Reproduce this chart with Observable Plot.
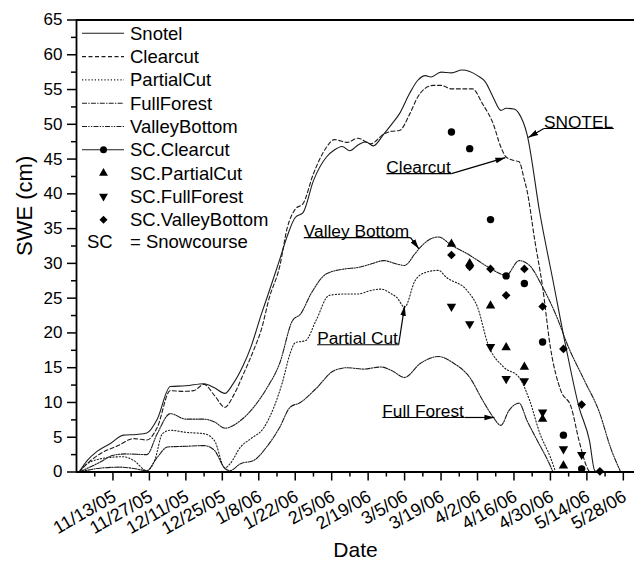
<!DOCTYPE html>
<html>
<head>
<meta charset="utf-8">
<script src="https://cdn.jsdelivr.net/npm/d3@7"></script>
<script src="https://cdn.jsdelivr.net/npm/@observablehq/plot@0.6"></script>
<style>
  html, body { margin: 0; padding: 0; background: #fff; }
  #wrap { position: relative; width: 634px; height: 568px; overflow: hidden; background: #fff; }
  #wrap svg { position: absolute; left: 0; top: 0; }
</style>
</head>
<body>
<div id="wrap"></div>
<script>
// ---------------- data ----------------
const seriesNames = ["Snotel", "Clearcut", "PartialCut", "FullForest", "ValleyBottom"];

const snotelDates = ["2005-10-31","2005-11-03","2005-11-07","2005-11-12","2005-11-17","2005-11-22","2005-11-26","2005-11-30","2005-12-05","2005-12-11","2005-12-18","2005-12-22","2005-12-26","2005-12-29","2006-01-02","2006-01-05","2006-01-09","2006-01-12","2006-01-16","2006-01-19","2006-01-22","2006-01-25","2006-01-29","2006-02-03","2006-02-06","2006-02-09","2006-02-12","2006-02-15","2006-02-18","2006-02-21","2006-02-25","2006-02-28","2006-03-03","2006-03-07","2006-03-10","2006-03-13","2006-03-15","2006-03-19","2006-03-23","2006-03-27","2006-03-30","2006-04-02","2006-04-05","2006-04-08","2006-04-11","2006-04-13","2006-04-16","2006-04-18","2006-04-21","2006-04-26","2006-05-01","2006-05-06","2006-05-11","2006-05-15","2006-05-17","2006-05-18"];
const snotelSWE = [0,1.6,3.0,4.1,5.3,5.4,5.6,7.6,12.3,12.4,12.7,12.1,11.3,12.6,15.3,18.0,22.7,26.0,30.5,34.0,36.6,37.3,41.9,45.3,46.3,46.8,46.2,47.0,47.5,46.9,48.6,50.0,51.5,54.5,56.3,57.0,56.8,57.5,57.4,57.8,57.6,57.0,56.1,53.9,52.0,52.3,52.2,51.5,48.6,37.1,27.5,17.9,9.3,4.5,0.2,0];

const clearcutDates = ["2005-10-31","2005-11-04","2005-11-08","2005-11-15","2005-11-21","2005-11-26","2005-11-30","2005-12-05","2005-12-10","2005-12-14","2005-12-18","2005-12-22","2005-12-26","2005-12-29","2006-01-02","2006-01-06","2006-01-09","2006-01-12","2006-01-16","2006-01-19","2006-01-22","2006-01-25","2006-01-29","2006-02-03","2006-02-06","2006-02-11","2006-02-15","2006-02-20","2006-02-25","2006-02-28","2006-03-03","2006-03-07","2006-03-10","2006-03-13","2006-03-16","2006-03-19","2006-03-23","2006-03-31","2006-04-04","2006-04-08","2006-04-11","2006-04-13","2006-04-16","2006-04-18","2006-04-20","2006-04-21","2006-04-24","2006-04-27","2006-04-30","2006-05-04","2006-05-08","2006-05-11","2006-05-14","2006-05-15"];
const clearcutSWE = [0,1.5,2.6,3.8,4.8,4.6,6.4,11.7,11.6,11.7,12.6,11.0,9.3,10.8,14.0,17.5,20.5,25.0,29.5,35.2,37.8,38.6,42.9,46.7,47.8,47.4,48.0,47.2,48.6,49.0,49.1,51.5,53.9,55.2,55.6,55.6,55.1,55.1,52.9,50.1,46.7,45.3,44.8,44.6,42.0,40.5,33.3,26.6,17.9,11.7,9.3,4.5,0.7,0];

const partialCutDates = ["2005-10-31","2005-11-04","2005-11-12","2005-11-17","2005-11-21","2005-11-26","2005-11-29","2005-12-02","2005-12-05","2005-12-11","2005-12-18","2005-12-22","2005-12-26","2005-12-28","2006-01-01","2006-01-05","2006-01-10","2006-01-14","2006-01-17","2006-01-20","2006-01-22","2006-01-26","2006-01-30","2006-02-04","2006-02-10","2006-02-15","2006-02-20","2006-02-24","2006-02-28","2006-03-02","2006-03-05","2006-03-09","2006-03-13","2006-03-18","2006-03-21","2006-03-29","2006-04-02","2006-04-06","2006-04-12","2006-04-18","2006-04-22","2006-04-26","2006-04-30","2006-05-02"];
const partialCutSWE = [0,1.4,2.1,2.2,1.65,0.2,1.65,5.5,6.0,5.7,5.5,4.5,0.6,1.2,3.6,4.8,6.4,9.5,12.8,17.0,18.6,18.9,21.8,25.4,25.6,25.6,26.1,26.3,25.6,25.1,23.7,27.5,28.7,29.0,28.0,26.1,23.7,18.4,15.1,13.6,10.3,5.5,2.1,0];

const fullForestDates = ["2005-10-31","2005-11-08","2005-11-16","2005-11-21","2005-11-26","2005-11-30","2005-12-04","2005-12-11","2005-12-18","2005-12-22","2005-12-26","2005-12-28","2006-01-01","2006-01-06","2006-01-11","2006-01-16","2006-01-20","2006-01-24","2006-01-30","2006-02-06","2006-02-11","2006-02-17","2006-02-24","2006-02-28","2006-03-05","2006-03-11","2006-03-18","2006-03-24","2006-03-30","2006-04-04","2006-04-08","2006-04-11","2006-04-14","2006-04-18","2006-04-21","2006-04-25","2006-04-29","2006-05-01"];
const fullForestSWE = [0,0.55,0.7,0.5,0.2,2.1,3.6,3.7,3.8,3.1,0.5,0.2,1.2,1.65,3.6,6.4,9.3,10.0,12.0,14.6,15.0,14.8,15.1,14.6,13.6,15.6,16.6,15.6,13.6,10.3,7.9,6.7,8.8,9.9,7.4,4.5,1.65,0];

const valleyBottomDates = ["2005-10-31","2005-11-08","2005-11-13","2005-11-18","2005-11-26","2005-11-30","2005-12-05","2005-12-11","2005-12-18","2005-12-22","2005-12-26","2006-01-01","2006-01-06","2006-01-11","2006-01-16","2006-01-21","2006-01-24","2006-01-28","2006-02-03","2006-02-10","2006-02-15","2006-02-20","2006-02-25","2006-03-02","2006-03-05","2006-03-09","2006-03-11","2006-03-14","2006-03-18","2006-03-23","2006-03-29","2006-04-06","2006-04-13","2006-04-18","2006-04-22","2006-04-27","2006-05-02","2006-05-07","2006-05-13","2006-05-19","2006-05-23","2006-05-27"];
const valleyBottomSWE = [0,1.4,2.4,2.6,2.5,5.5,8.4,7.6,7.6,7.2,6.3,7.4,9.3,12.0,15.6,21.8,22.7,25.6,28.5,29.2,29.4,29.9,30.4,29.9,29.7,31.4,32.3,33.3,33.8,32.6,31.4,29.5,28.3,30.4,29.7,26.6,22.7,17.9,13.2,8.4,3.6,0];

// snowcourse surveys
const scDates = ["2006-03-23","2006-03-30","2006-04-07","2006-04-13","2006-04-20","2006-04-27","2006-05-05","2006-05-12","2006-05-19"];
const scClearcut     = [48.9, 46.5, 36.3, 28.2, 27.1, 18.7, 5.3, 0.45];
const scPartialCut   = [32.8, 30.0, 23.9, 17.9, 15.1, 7.6, 0.9];
const scFullForest   = [23.8, 21.3, 18.0, 13.4, 13.1, 8.6, 3.3, 2.5];
const scValleyBottom = [31.2, 29.5, 29.2, 25.4, 29.2, 23.8, 17.7, 9.7, 0.1];

// ticks
const xTickLabels = ["11/13/05","11/27/05","12/11/05","12/25/05","1/8/06","1/22/06","2/5/06","2/19/06","3/5/06","3/19/06","4/2/06","4/16/06","4/30/06","5/14/06","5/28/06"];
const yTickLabels = [0,5,10,15,20,25,30,35,40,45,50,55,60,65];

// legend
const legendNames = ["Snotel","Clearcut","PartialCut","FullForest","ValleyBottom","SC.Clearcut","SC.PartialCut","SC.FullForest","SC.ValleyBottom"];
const legendNoteKey = "SC";
const legendNoteText = "= Snowcourse";

// annotations (data coordinates)
const annoLabels   = ["SNOTEL","Clearcut","Valley Bottom","Partial Cut","Full Forest"];
const annoLeft     = ["2006-04-27T12:00","2006-02-26T00:00","2006-01-25T07:00","2006-01-30T10:00","2006-02-24T10:00"];
const annoRight    = ["2006-05-24T08:00","2006-03-23T00:00","2006-03-07T07:00","2006-03-02T17:00","2006-03-28T00:00"];
const annoLevel    = [49.4, 42.9, 33.7, 18.3, 7.84];
const annoTipDate  = ["2006-04-21T12:00","2006-04-12T17:00","2006-03-10T12:00","2006-03-05T00:00","2006-04-08T12:00"];
const annoTipSWE   = [48.1, 45.2, 32.1, 23.9, 7.84];
const annoTailSide = ["left","right","right","right","right"];

// ---------------- build ----------------
const FONT = "'Liberation Sans', Arial, Helvetica, sans-serif";
const P = s => new Date(s.length > 10 ? s + ":00Z" : s + "T00:00:00Z");
const parseMDY = d3.utcParse("%m/%d/%y");

const seriesData = {
  Snotel: [snotelDates, snotelSWE],
  Clearcut: [clearcutDates, clearcutSWE],
  PartialCut: [partialCutDates, partialCutSWE],
  FullForest: [fullForestDates, fullForestSWE],
  ValleyBottom: [valleyBottomDates, valleyBottomSWE]
};
const lineDash = {
  Snotel: null,
  Clearcut: "4,2.5",
  PartialCut: "1.2,2",
  FullForest: "5,1.3,1.3,1.3",
  ValleyBottom: "5,1.3,1.3,1.3,1.3,1.3"
};
const lineRows = name => seriesData[name][0].map((d, i) => ({date: P(d), swe: seriesData[name][1][i]}));
const scRows = vals => vals.map((v, i) => ({date: P(scDates[i]), swe: v}));

// custom downward triangle
const sqrt3 = Math.sqrt(3);
const triangleDown = {
  draw(context, size) {
    const y = -Math.sqrt(size / (sqrt3 * 3));
    context.moveTo(0, -y * 2);
    context.lineTo(-sqrt3 * y, y);
    context.lineTo(sqrt3 * y, y);
    context.closePath();
  }
};

const xMajor = xTickLabels.map(parseMDY);
const xMinor = xMajor.map(d => d3.utcDay.offset(d, -7));
const yMinor = yTickLabels.slice(0, -1).map(v => v + 2.5);
const x0 = P("2005-10-30");
const x1 = P("2006-06-01T07:00");

const annoRows = annoLabels.map((t, i) => ({
  text: t,
  left: P(annoLeft[i]), right: P(annoRight[i]), level: annoLevel[i],
  tipX: P(annoTipDate[i]), tipY: annoTipSWE[i],
  tailX: annoTailSide[i] === "left" ? P(annoLeft[i]) : P(annoRight[i])
}));

const INK = "#1c1c1c";

const chart = Plot.plot({
  width: 634,
  height: 568,
  marginLeft: 76,
  marginRight: 0,
  marginTop: 19.5,
  marginBottom: 96.5,
  style: {fontFamily: FONT, background: "#fff", color: "#000", overflow: "visible"},
  x: {type: "utc", domain: [x0, x1]},
  y: {domain: [0, 65]},
  marks: [
    ...seriesNames.map(name => Plot.line(lineRows(name), {
      x: "date", y: "swe", curve: "monotone-x",
      stroke: INK, strokeWidth: 1.1,
      strokeDasharray: lineDash[name] || undefined
    })),
    Plot.dot(scRows(scClearcut), {x: "date", y: "swe", symbol: "circle", r: 3.7, fill: "#000"}),
    Plot.dot(scRows(scPartialCut), {x: "date", y: "swe", symbol: "triangle", r: 3.5, fill: "#000"}),
    Plot.dot(scRows(scFullForest), {x: "date", y: "swe", symbol: triangleDown, r: 3.5, fill: "#000"}),
    Plot.dot(scRows(scValleyBottom), {x: "date", y: "swe", symbol: "diamond2", r: 3.9, fill: "#000"}),

    // axes
    Plot.axisY({ticks: yTickLabels, tickSize: 9, tickPadding: 5, fontSize: 17, strokeWidth: 1.5, label: null}),
    Plot.axisY({ticks: yMinor, tickSize: 5, tickFormat: () => "", strokeWidth: 1.5, label: null}),
    Plot.axisX({ticks: xMajor, tickSize: 9, tickFormat: () => "", strokeWidth: 1.5, label: null}),
    Plot.axisX({ticks: xMinor, tickSize: 5, tickFormat: () => "", strokeWidth: 1.5, label: null}),
    Plot.text(xTickLabels, {
      x: d => parseMDY(d), text: d => d, frameAnchor: "bottom",
      rotate: -30, textAnchor: "end", lineAnchor: "top",
      dy: 17, dx: -2, fontSize: 18, fill: "#000"
    }),
    Plot.ruleY([0], {stroke: "#000", strokeWidth: 1.8}),
    Plot.ruleY([65], {stroke: "#000", strokeWidth: 1.8}),
    Plot.ruleX([x0], {stroke: "#000", strokeWidth: 1.8}),

    // annotations
    Plot.text(annoRows, {x: "left", y: "level", text: "text", textAnchor: "start", lineAnchor: "bottom", dy: -0.5, fontSize: 17.3, fill: "#000"}),
    Plot.link(annoRows, {x1: "left", x2: "right", y1: "level", y2: "level", stroke: "#000", strokeWidth: 1.2}),
    Plot.link(annoRows, {x1: "tailX", y1: "level", x2: "tipX", y2: "tipY", stroke: "#000", strokeWidth: 1.2, markerEnd: "arrow"}),

    // axis titles
    Plot.text(["SWE (cm)"], {frameAnchor: "left", rotate: -90, dx: -52, dy: 10, fontSize: 22, fill: "#000"}),
    Plot.text(["Date"], {frameAnchor: "bottom", dy: 85, fontSize: 21, fill: "#000"})
  ]
});

// solid arrow heads
d3.select(chart).selectAll("marker").each(function () {
  const m = d3.select(this);
  m.attr("viewBox", "-10 -4 11 8")
   .attr("markerWidth", 11).attr("markerHeight", 8)
   .attr("markerUnits", "userSpaceOnUse")
   .attr("refX", 0).attr("refY", 0)
   .attr("fill", "#000").attr("stroke", "none");
  m.selectAll("*").remove();
  m.append("path").attr("d", "M-10,-2.8L0,0L-10,2.8Z").attr("fill", "#000").attr("stroke", "none");
});

document.getElementById("wrap").appendChild(chart);

// ---------------- legend ----------------
const legendStyle = {
  "Snotel": {line: true, dash: null},
  "Clearcut": {line: true, dash: lineDash.Clearcut},
  "PartialCut": {line: true, dash: lineDash.PartialCut},
  "FullForest": {line: true, dash: lineDash.FullForest},
  "ValleyBottom": {line: true, dash: lineDash.ValleyBottom},
  "SC.Clearcut": {line: true, dash: null, symbol: d3.symbolCircle, r: 3.5},
  "SC.PartialCut": {symbol: d3.symbolTriangle, r: 3.3},
  "SC.FullForest": {symbol: triangleDown, r: 3.3},
  "SC.ValleyBottom": {symbol: d3.symbolDiamond2, r: 3.6}
};
const lg = d3.select("#wrap").append("svg")
  .attr("width", 634).attr("height", 568)
  .style("font-family", FONT).style("pointer-events", "none");
legendNames.forEach((name, i) => {
  const cy = 33.3 + 23.3 * i;
  const st = legendStyle[name];
  if (st.line) {
    lg.append("line").attr("x1", 82).attr("x2", 124).attr("y1", cy).attr("y2", cy)
      .attr("stroke", INK).attr("stroke-width", 1.1)
      .attr("stroke-dasharray", st.dash || null);
  }
  if (st.symbol) {
    lg.append("path").attr("transform", `translate(103.5,${cy})`)
      .attr("d", d3.symbol(st.symbol, Math.PI * st.r * st.r)())
      .attr("fill", "#000");
  }
  lg.append("text").attr("x", 130).attr("y", cy).attr("dy", "0.35em")
    .attr("font-size", 18.5).attr("fill", "#000").text(name);
});
const noteY = 33.3 + 23.3 * 8 + 21.5;
lg.append("text").attr("x", 87).attr("y", noteY).attr("dy", "0.35em")
  .attr("font-size", 18.5).attr("fill", "#000").text(legendNoteKey);
lg.append("text").attr("x", 130).attr("y", noteY).attr("dy", "0.35em")
  .attr("font-size", 18.5).attr("fill", "#000").text(legendNoteText);
</script>
</body>
</html>
